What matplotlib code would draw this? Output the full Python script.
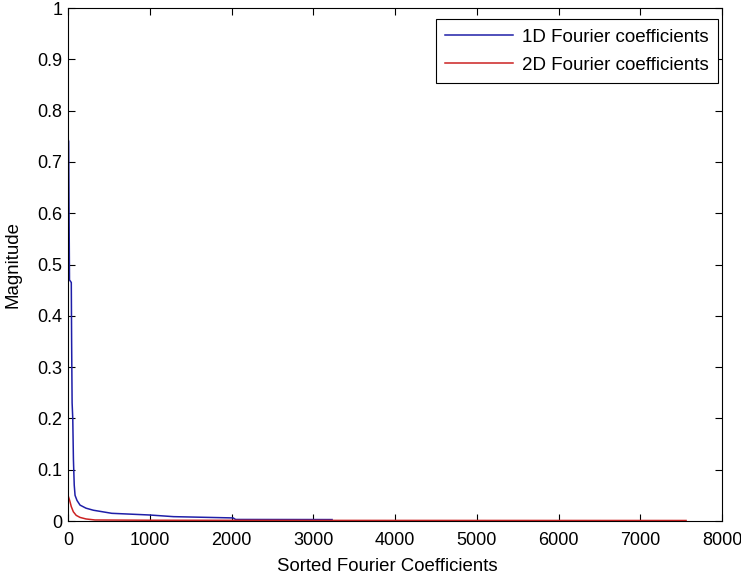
import matplotlib.pyplot as plt

# sorted magnitudes (breakpoints of the curves)
idx_1d = [0, 8, 12, 18, 40, 44, 50, 58, 66, 76, 86, 110, 147, 220, 310, 535, 1000, 1290,
          2020, 2050, 3230]
mag_1d = [0.745, 0.74, 0.62, 0.47, 0.465, 0.35, 0.23, 0.2, 0.12, 0.07, 0.05, 0.04, 0.031,
          0.025, 0.021, 0.015, 0.0117, 0.0085, 0.006, 0.003, 0.0028]

idx_2d = [0, 20, 40, 65, 100, 147, 220, 330, 1000, 3000, 7560]
mag_2d = [0.05, 0.04, 0.028, 0.018, 0.011, 0.007, 0.004, 0.002, 0.0015, 0.0012, 0.001]

x_ticks = [0, 1000, 2000, 3000, 4000, 5000, 6000, 7000, 8000]
y_ticks = [0, 0.1, 0.2, 0.3, 0.4, 0.5, 0.6, 0.7, 0.8, 0.9, 1]
y_labels = ["0", "0.1", "0.2", "0.3", "0.4", "0.5", "0.6", "0.7", "0.8", "0.9", "1"]

plt.rcParams['font.family'] = ['Liberation Sans', 'DejaVu Sans']

fig = plt.figure(figsize=(7.41, 5.75), dpi=100)
ax = fig.add_axes([0.0918, 0.0939, 0.8826, 0.8921])

ax.plot(idx_1d, mag_1d, color='#1f1fa8', lw=1.1, label='1D Fourier coefficients')
ax.plot(idx_2d, mag_2d, color='#cc2222', lw=1.1, label='2D Fourier coefficients')

ax.set_xlim(0, 8000)
ax.set_ylim(0, 1)
ax.set_xticks(x_ticks)
ax.set_xticklabels([str(t) for t in x_ticks])
ax.set_yticks(y_ticks)
ax.set_yticklabels(y_labels)
ax.tick_params(direction='in', top=True, right=True, length=5, width=0.8, labelsize=13)
ax.tick_params(axis='x', pad=8)
ax.tick_params(axis='y', pad=4)
for s in ax.spines.values():
    s.set_linewidth(0.8)

ax.set_xlabel('Sorted Fourier Coefficients', fontsize=13.4)
ax.set_ylabel('Magnitude', fontsize=13.4)
ax.xaxis.set_label_coords(0.4885, -0.072)
ax.yaxis.set_label_coords(-0.071, 0.5)

leg = ax.legend(loc='upper right', bbox_to_anchor=(0.9939, 0.9786), borderaxespad=0,
                fancybox=False, edgecolor='black', framealpha=1,
                handlelength=3.6, handletextpad=0.5, fontsize=13.5,
                labelspacing=0.6, borderpad=0.5)
leg.get_frame().set_linewidth(0.8)

fig.savefig('out.png', dpi=100)
